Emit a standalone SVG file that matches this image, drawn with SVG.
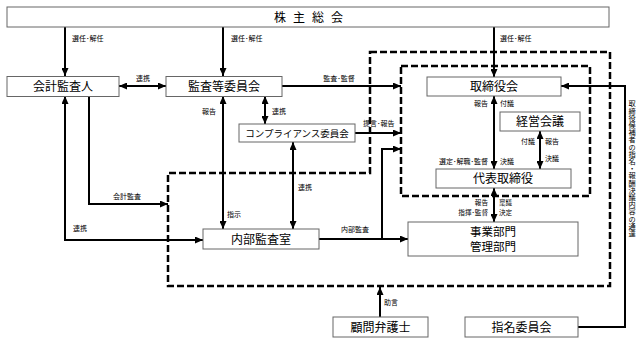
<svg xmlns="http://www.w3.org/2000/svg" width="642" height="343" viewBox="0 0 642 343">
<style>
text{font-family:"Noto Sans CJK JP","Noto Sans",sans-serif;fill:#000}
.box{fill:#fff;stroke:#666;stroke-width:1}
.t{font-size:12px;text-anchor:middle}
.s{font-size:7px}
.e{text-anchor:end}
.c{text-anchor:middle}
.ln{fill:none;stroke:#000;stroke-width:2}
.dash{fill:none;stroke:#000;stroke-width:2.5;stroke-dasharray:7 3}
</style>
<defs>
<marker id="ah" markerUnits="userSpaceOnUse" markerWidth="8" markerHeight="7" refX="8" refY="3.5" orient="auto-start-reverse">
<path d="M0,0 L8,3.5 L0,7 z" fill="#000"/>
</marker>
</defs>
<rect width="642" height="343" fill="#fff"/>
<g id="dashed-areas">
<path class="dash" d="M370,52 H610 V286 H168 V173 H370 Z"/>
<rect class="dash" x="401" y="66" width="189" height="130"/>
</g>
<g id="connectors">
<path class="ln" d="M65,27 V76" marker-end="url(#ah)"/>
<path class="ln" d="M223,27 V76" marker-end="url(#ah)"/>
<path class="ln" d="M494,27 V77" marker-end="url(#ah)"/>
<path class="ln" d="M119,86 H166" marker-start="url(#ah)" marker-end="url(#ah)"/>
<path class="ln" d="M282,86 H401" marker-end="url(#ah)"/>
<path class="ln" d="M223,96 V229" marker-start="url(#ah)" marker-end="url(#ah)"/>
<path class="ln" d="M265,96 V124" marker-start="url(#ah)" marker-end="url(#ah)"/>
<path class="ln" d="M355,133 H401" marker-end="url(#ah)"/>
<path class="ln" d="M293,142 V229" marker-start="url(#ah)" marker-end="url(#ah)"/>
<path class="ln" d="M89,96 V204 H168" marker-end="url(#ah)"/>
<path class="ln" d="M65,96 V240 H203" marker-start="url(#ah)" marker-end="url(#ah)"/>
<path class="ln" d="M319,239 H408" marker-end="url(#ah)"/>
<path class="ln" d="M382,239 V149 H401" marker-end="url(#ah)"/>
<path class="ln" d="M494,96 V169" marker-start="url(#ah)" marker-end="url(#ah)"/>
<path class="ln" d="M540,131 V169" marker-start="url(#ah)" marker-end="url(#ah)"/>
<path class="ln" d="M494,188 V222" marker-start="url(#ah)" marker-end="url(#ah)"/>
<path class="ln" d="M380,317 V287" marker-end="url(#ah)"/>
<path class="ln" d="M578,327 H625 V86 H561" marker-end="url(#ah)"/>
</g>
<g id="labels">
<text class="s" x="72" y="41">選任･解任</text>
<text class="s" x="231" y="41">選任･解任</text>
<text class="s" x="500" y="41">選任･解任</text>
<text class="s c" x="143" y="81">連携</text>
<text class="s c" x="339" y="81">監査･監督</text>
<text class="s c" x="209" y="114">報告</text>
<text class="s" x="272" y="114">連携</text>
<text class="s" x="363" y="126">提言･報告</text>
<text class="s c" x="127" y="199">会計監査</text>
<text class="s" x="73" y="231">連携</text>
<text class="s" x="227" y="217">指示</text>
<text class="s" x="298" y="190">連携</text>
<text class="s" x="341" y="232">内部監査</text>
<text class="s e" x="488" y="106">報告</text>
<text class="s" x="500" y="106">付議</text>
<text class="s e" x="488" y="164">選定･解職･監督</text>
<text class="s" x="500" y="164">決議</text>
<text class="s e" x="535" y="144">付議</text>
<text class="s" x="545" y="144">報告</text>
<text class="s" x="545" y="161">決議</text>
<text class="s e" x="488" y="205" style="font-size:6.6px">報告</text>
<text class="s" x="499" y="205" style="font-size:6.6px">稟議</text>
<text class="s e" x="488" y="214.5" style="font-size:6.6px">指揮･監督</text>
<text class="s" x="499" y="214.5" style="font-size:6.6px">決定</text>
<text class="s" x="384" y="305">助言</text>
<text class="s" x="632" y="100" style="writing-mode:vertical-rl;font-size:7.2px">取締役候補者の指名・報酬決議内容の通達</text>
</g>
<g id="shareholders"><rect class="box" x="7" y="7" width="602" height="20"/><text class="t" x="280 299 318 337" y="21.5">株主総会</text></g>
<g id="auditor"><rect class="box" x="7" y="76.5" width="112" height="20"/><text class="t" x="63" y="91">会計監査人</text></g>
<g id="audit-committee"><rect class="box" x="166" y="76.5" width="116" height="20"/><text class="t" x="224" y="91">監査等委員会</text></g>
<g id="compliance"><rect class="box" x="239" y="124" width="116" height="18"/><text class="t" x="297" y="137" style="font-size:9.5px">コンプライアンス委員会</text></g>
<g id="board"><rect class="box" x="427" y="77" width="134" height="19"/><text class="t" x="494" y="91">取締役会</text></g>
<g id="management-meeting"><rect class="box" x="500" y="112" width="80" height="19"/><text class="t" x="540" y="126">経営会議</text></g>
<g id="representative"><rect class="box" x="436" y="169" width="135" height="19"/><text class="t" x="503" y="183">代表取締役</text></g>
<g id="internal-audit"><rect class="box" x="203" y="229" width="116" height="20"/><text class="t" x="261" y="243.5">内部監査室</text></g>
<g id="divisions"><rect class="box" x="408" y="222" width="170" height="34"/><text class="t" x="493" y="235.5" style="font-size:11.5px">事業部門</text><text class="t" x="493" y="251" style="font-size:11.5px">管理部門</text></g>
<g id="lawyer"><rect class="box" x="333" y="317" width="95" height="20"/><text class="t" x="380.5" y="331.5">顧問弁護士</text></g>
<g id="nomination"><rect class="box" x="465" y="317" width="113" height="20"/><text class="t" x="521.5" y="331.5">指名委員会</text></g>
</svg>
